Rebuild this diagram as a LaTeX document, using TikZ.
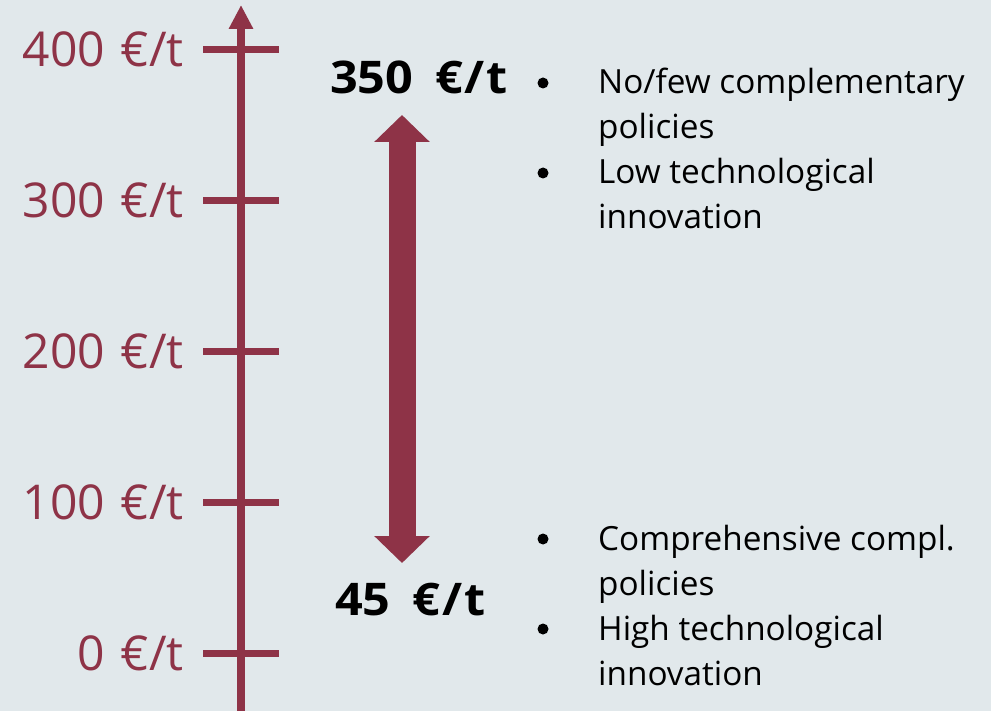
\documentclass[tikz,border=0pt]{standalone}
\usepackage{fontspec}
\setmainfont{Open Sans}
\usetikzlibrary{arrows.meta}
\definecolor{maroon}{HTML}{8E3347}
\definecolor{bgc}{HTML}{E1E8EB}
\begin{document}
\begin{tikzpicture}[x=1pt,y=-1pt,
  axisline/.style={draw=maroon, line width=8pt},
  tickline/.style={draw=maroon, line width=7.5pt},
  ticklabel/.style={anchor=base east, text=maroon, inner sep=0pt, font=\fontsize{48}{50}\selectfont},
  biglabel/.style={anchor=base west, text=black, inner sep=0pt, font=\fontsize{45}{50}\selectfont\bfseries},
  bullettext/.style={anchor=base west, text=black, inner sep=0pt, align=left, font=\fontsize{33.3}{45}\selectfont},
  bulletdot/.style={circle, fill=black, inner sep=0pt, minimum size=11pt},
  rangearrow/.style={draw=maroon, line width=27pt, {Triangle[length=27pt,width=54pt]}-{Triangle[length=27pt,width=54pt]}}
]
\fill[bgc] (0,0) rectangle (991,711);
\useasboundingbox (0,0) rectangle (991,711);

% axis
\coordinate (axbot) at (241,716);
\coordinate (axtop) at (241,5);
\draw[axisline, -{Triangle[length=24pt,width=23pt]}] (axbot) -- (axtop);

% ticks and labels
\foreach \v/\y in {400/49.5, 300/200.5, 200/351.6, 100/502.6, 0/653.7}{
  \coordinate (tl\v) at (203,\y);
  \coordinate (tr\v) at (279,\y);
  \draw[tickline] (tl\v) -- (tr\v);
  \node[ticklabel] (lab\v) at (184,\y+17) {\v\hspace{0.33em}€/t};
}

% range arrow
\coordinate (atop) at (402,115);
\coordinate (abot) at (402,563);
\draw[rangearrow] (atop) -- (abot);

\node[biglabel] (hi) at (330,94) {\scalebox{1.08}[1]{350\hspace{0.45em}€\hspace{0.04em}/\hspace{0.04em}t}};
\node[biglabel] (lo) at (335,615) {\scalebox{1.08}[1]{45\hspace{0.45em}€\hspace{0.04em}/\hspace{0.04em}t}};

% upper bullets
\node[bulletdot] (b1) at (543,83) {};
\node[bulletdot] (b2) at (543,173) {};
\node[bullettext] (t1) at (598,229) {No/few complementary\\policies\\Low technological\\innovation};

% lower bullets
\node[bulletdot] (b3) at (543,539) {};
\node[bulletdot] (b4) at (543,629) {};
\node[bullettext] (t2) at (598,685) {Comprehensive compl.\\policies\\High technological\\innovation};
\end{tikzpicture}
\end{document}
